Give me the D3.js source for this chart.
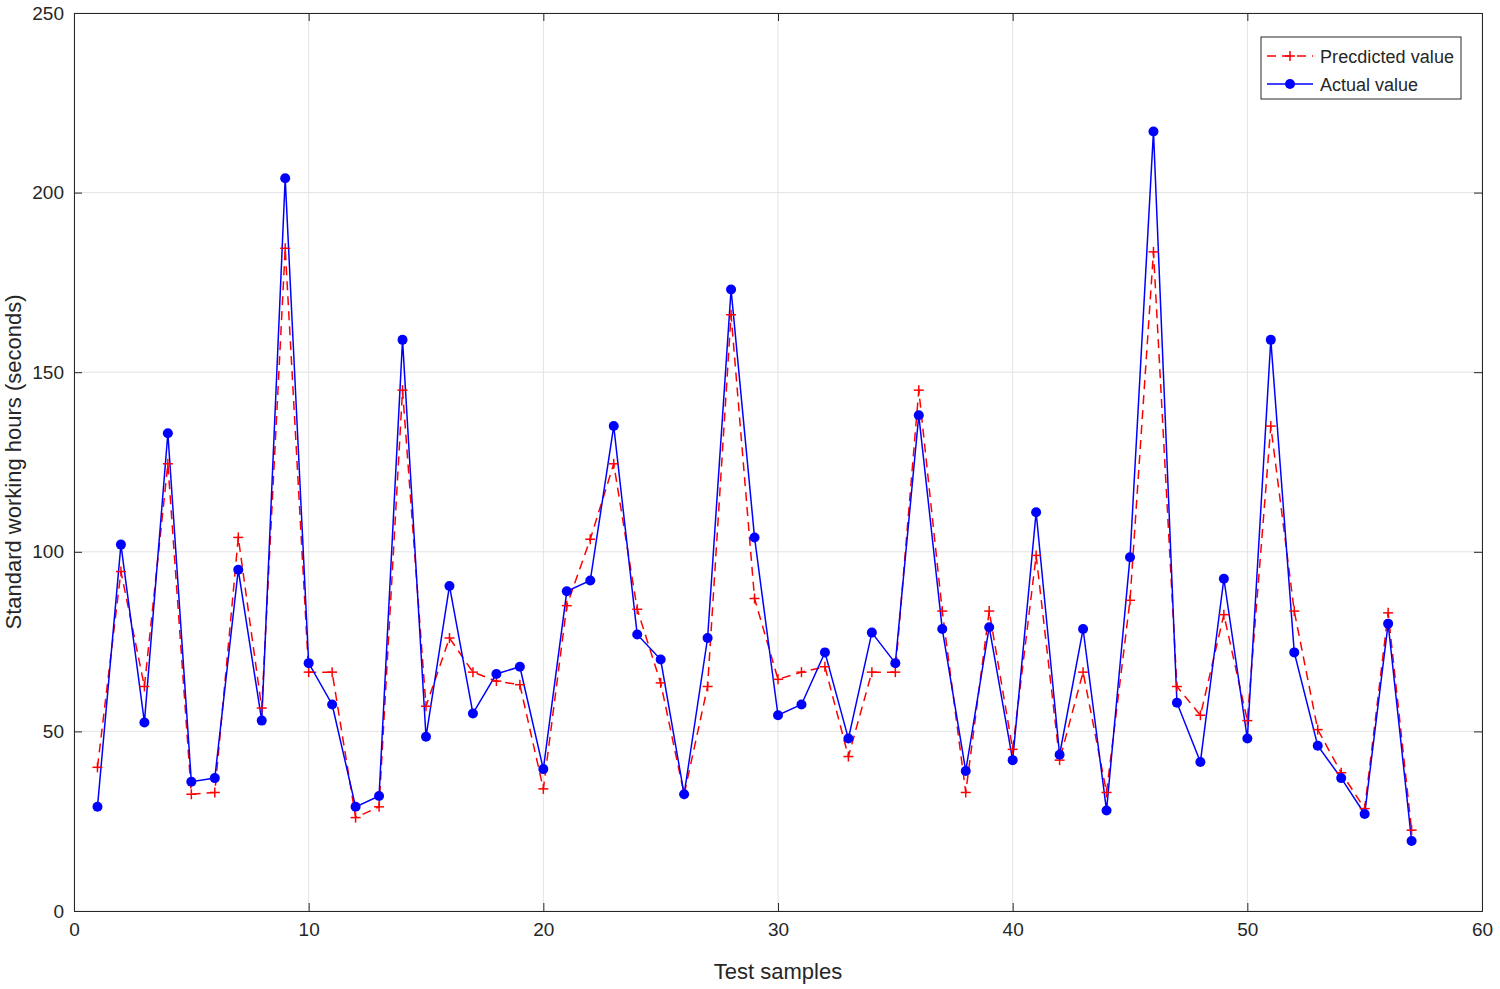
<!DOCTYPE html>
<html><head><meta charset="utf-8">
<script src="https://cdn.jsdelivr.net/npm/d3@7"></script>
<style>body{margin:0;background:#fff;font-family:"Liberation Sans",Arial,sans-serif}</style>
</head><body><div id="chart"></div>
<script>
const actual = [29,102,52.5,133,36,37,95,53,204,69,57.5,29,32,159,48.5,90.5,55,66,68,39.5,89,92,135,77,70,32.5,76,173,104,54.5,57.5,72,48,77.5,69,138,78.5,39,79,42,111,43.5,78.5,28,98.5,217,58,41.5,92.5,48,159,72,46,37,27,80,19.5];
const predicted = [40,94.5,62.5,124.5,32.5,33,104,56.5,184.5,66.5,66.5,26,29,145,57,76,66.5,64,63,34,85,103.5,124.5,84,63.5,32.5,62.5,166,87,64.5,66.5,68,43,66.5,66.5,145,83.5,33,83.5,45,99,42,66.5,33,86.5,183.5,62.5,54.5,82.5,53,135,83.5,50.5,38.5,28.5,83,22.5];
const xTicks = [0,10,20,30,40,50,60];
const yTicks = [0,50,100,150,200,250];

const width = 1500, height = 989;
const m = {left:74, right:18, top:13, bottom:78};

const svg = d3.select("#chart").append("svg").attr("width",width).attr("height",height);
const x = d3.scaleLinear().domain([0,60]).range([m.left, width-m.right]);
const y = d3.scaleLinear().domain([0,250]).range([height-m.bottom, m.top]);

// grid
svg.append("g").selectAll("line.v").data(xTicks).join("line")
  .attr("x1",d=>x(d)).attr("x2",d=>x(d)).attr("y1",y(0)).attr("y2",y(250))
  .attr("stroke","#e3e3e3");
svg.append("g").selectAll("line.h").data(yTicks).join("line")
  .attr("y1",d=>y(d)).attr("y2",d=>y(d)).attr("x1",x(0)).attr("x2",x(60))
  .attr("stroke","#e3e3e3");

svg.append("g").attr("transform",`translate(0,${y(0)})`)
  .call(d3.axisBottom(x).tickValues(xTicks).tickSize(-8).tickPadding(12));
svg.append("g").attr("transform",`translate(${x(0)},0)`)
  .call(d3.axisLeft(y).tickValues(yTicks).tickSize(-8).tickPadding(10));
svg.append("g").attr("transform",`translate(0,${y(250)})`)
  .call(d3.axisTop(x).tickValues(xTicks).tickSize(-8).tickFormat(""));
svg.append("g").attr("transform",`translate(${x(60)},0)`)
  .call(d3.axisRight(y).tickValues(yTicks).tickSize(-8).tickFormat(""));
svg.selectAll(".domain, .tick line").attr("stroke","#262626");
svg.selectAll(".tick text").attr("font-size",19).attr("fill","#262626").attr("font-family","Liberation Sans, Arial, sans-serif");

svg.append("text").attr("x",x(30)).attr("y",height-10).attr("text-anchor","middle")
  .attr("font-size",22).attr("fill","#262626").text("Test samples");
svg.append("text").attr("transform",`translate(21,${y(125)}) rotate(-90)`).attr("text-anchor","middle")
  .attr("font-size",22).attr("fill","#262626").text("Standard working hours (seconds)");

const line = d3.line().x((d,i)=>x(i+1)).y(d=>y(d));
svg.append("path").datum(predicted).attr("d",line).attr("fill","none")
  .attr("stroke","#ff0000").attr("stroke-width",1.5).attr("stroke-dasharray","9,6");
svg.append("path").datum(actual).attr("d",line).attr("fill","none")
  .attr("stroke","#0000ff").attr("stroke-width",1.5);

svg.append("g").selectAll("g").data(predicted).join("g")
  .attr("transform",(d,i)=>`translate(${x(i+1)},${y(d)})`)
  .each(function(){
    const g = d3.select(this);
    g.append("line").attr("x1",-5).attr("x2",5).attr("stroke","#ff0000").attr("stroke-width",1.5);
    g.append("line").attr("y1",-5).attr("y2",5).attr("stroke","#ff0000").attr("stroke-width",1.5);
  });
svg.append("g").selectAll("circle").data(actual).join("circle")
  .attr("cx",(d,i)=>x(i+1)).attr("cy",d=>y(d)).attr("r",5).attr("fill","#0000ff");

// legend
const lg = svg.append("g").attr("transform","translate(1261,37)");
lg.append("rect").attr("width",200).attr("height",62).attr("fill","#fff").attr("stroke","#262626");
lg.append("line").attr("x1",6).attr("x2",52).attr("y1",19).attr("y2",19).attr("stroke","#ff0000").attr("stroke-width",1.5).attr("stroke-dasharray","9,6");
lg.append("line").attr("x1",24).attr("x2",34).attr("y1",19).attr("y2",19).attr("stroke","#ff0000").attr("stroke-width",1.5);
lg.append("line").attr("x1",29).attr("x2",29).attr("y1",14).attr("y2",24).attr("stroke","#ff0000").attr("stroke-width",1.5);
lg.append("line").attr("x1",6).attr("x2",52).attr("y1",47).attr("y2",47).attr("stroke","#0000ff").attr("stroke-width",1.5);
lg.append("circle").attr("cx",29).attr("cy",47).attr("r",5).attr("fill","#0000ff");
lg.append("text").attr("x",59).attr("y",26).attr("font-size",18).attr("textLength",134).attr("fill","#262626").text("Precdicted value");
lg.append("text").attr("x",59).attr("y",54).attr("font-size",18).attr("fill","#262626").text("Actual value");
</script></body></html>
